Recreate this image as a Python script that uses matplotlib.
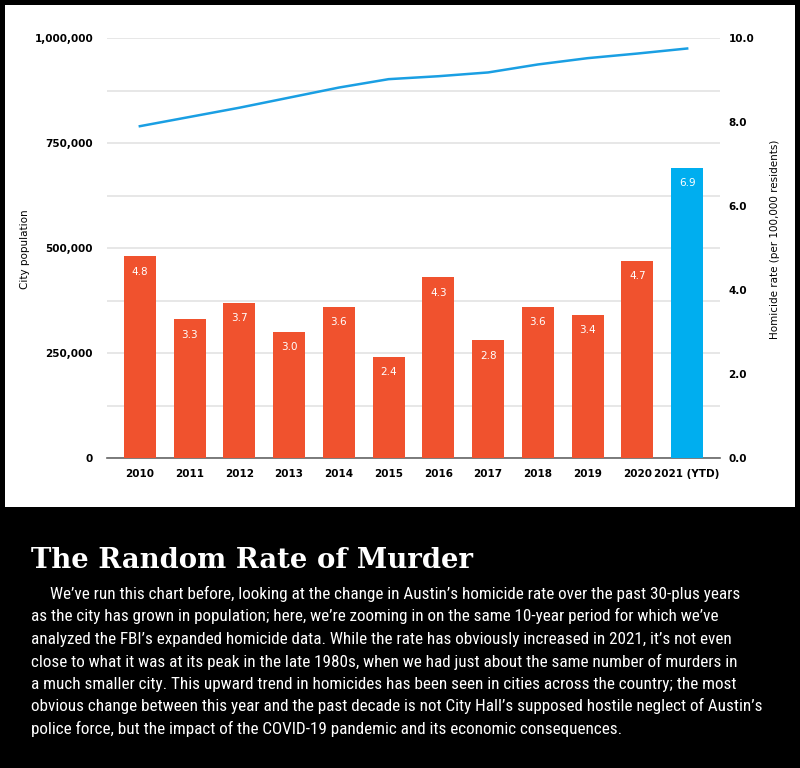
import matplotlib.pyplot as plt
from matplotlib import font_manager
from matplotlib.patches import Rectangle
from matplotlib.ticker import FuncFormatter, MultipleLocator

years = ["2010", "2011", "2012", "2013", "2014", "2015", "2016", "2017",
         "2018", "2019", "2020", "2021 (YTD)"]
homicide_rate = [4.8, 3.3, 3.7, 3.0, 3.6, 2.4, 4.3, 2.8, 3.6, 3.4, 4.7, 6.9]
population = [790000, 812000, 834000, 858000, 882000, 902000, 909000, 918000,
              937000, 952000, 963000, 975000]

title = "The Random Rate of Murder"
body_lines = [
    "We\u2019ve run this chart before, looking at the change in Austin\u2019s homicide rate over the past 30-plus years",
    "as the city has grown in population; here, we\u2019re zooming in on the same 10-year period for which we\u2019ve",
    "analyzed the FBI\u2019s expanded homicide data. While the rate has obviously increased in 2021, it\u2019s not even",
    "close to what it was at its peak in the late 1980s, when we had just about the same number of murders in",
    "a much smaller city. This upward trend in homicides has been seen in cities across the country; the most",
    "obvious change between this year and the past decade is not City Hall\u2019s supposed hostile neglect of Austin\u2019s",
    "police force, but the impact of the COVID-19 pandemic and its economic consequences.",
]

RED = "#f0522e"
BLUE_BAR = "#00aeef"
BLUE_LINE = "#1a9fe3"
W, H = 800, 768

# pick a narrow face for the body copy if one is installed
names = {f.name for f in font_manager.fontManager.ttflist}
body_family = "DejaVu Sans"
for cand in ["Liberation Sans Narrow", "Roboto Condensed", "Open Sans Condensed",
             "DejaVu Sans Condensed"]:
    if cand in names:
        body_family = cand
        break

fig = plt.figure(figsize=(8, 7.68), dpi=100, facecolor="black")
fig.patches.append(Rectangle((5 / W, 1 - 507 / H), 790 / W, 502 / H,
                             transform=fig.transFigure, facecolor="white",
                             edgecolor="none", zorder=-5))

ax = fig.add_axes([107 / W, 1 - 458 / H, 613 / W, 420 / H])
ax.set_facecolor("none")
x = list(range(len(years)))

# population line on the left axis
ax.plot(x, population, color=BLUE_LINE, lw=1.8, zorder=5)
ax.set_ylim(0, 1000000)
ax.set_xlim(-0.66, len(years) - 0.34)
ax.yaxis.set_major_locator(MultipleLocator(250000))
ax.yaxis.set_minor_locator(MultipleLocator(125000))
ax.yaxis.set_major_formatter(FuncFormatter(lambda v, p: f"{int(v):,}"))
ax.grid(True, which="both", axis="y", color="#e3e3e3", lw=1.2)
ax.set_axisbelow(True)
ax.set_xticks(x)
ax.set_xticklabels(years, fontsize=7.5, fontweight="bold")
ax.tick_params(axis="both", length=0, pad=8)
ax.tick_params(axis="y", which="both", length=0, labelsize=7.5, pad=10)
for lbl in ax.get_yticklabels():
    lbl.set_fontweight("bold")
for s in ["top", "right", "left"]:
    ax.spines[s].set_visible(False)
ax.spines["bottom"].set_color("#666666")
ax.spines["bottom"].set_linewidth(1.2)
ax.set_ylabel("City population", fontsize=7.5)
ax.yaxis.set_label_coords((30 - 107) / 613, (458 - 249) / 420)

# homicide bars on the right axis
ax2 = ax.twinx()
colors = [RED] * (len(years) - 1) + [BLUE_BAR]
bars = ax2.bar(x, homicide_rate, width=0.64, color=colors, zorder=3)
ax2.set_ylim(0, 10)
ax2.set_yticks([0, 2, 4, 6, 8, 10])
ax2.yaxis.set_major_formatter(FuncFormatter(lambda v, p: f"{v:.1f}"))
ax2.tick_params(axis="y", length=0, labelsize=7.5, pad=6)
for lbl in ax2.get_yticklabels():
    lbl.set_fontweight("bold")
for s in ax2.spines.values():
    s.set_visible(False)
ax2.set_ylabel("Homicide rate (per 100,000 residents)", fontsize=7.5)
ax2.yaxis.set_label_coords((770 - 107) / 613, (458 - 239) / 420)
for b, v in zip(bars, homicide_rate):
    ax2.annotate(f"{v:.1f}", (b.get_x() + b.get_width() / 2, v),
                 xytext=(0, -11), textcoords="offset points",
                 ha="center", va="center", color="white", fontsize=7.5)

# title and body text below the chart
renderer = fig.canvas.get_renderer()
t = fig.text(31 / W, 1 - 568 / H, title, color="white", fontsize=23,
             fontweight="heavy", family="DejaVu Serif", va="baseline")
tw = t.get_window_extent(renderer).width
t.set_fontsize(23 * 442 / tw)

texts = []
for i, line in enumerate(body_lines):
    xpos = 50 if i == 0 else 31
    texts.append(fig.text(xpos / W, 1 - (599 + i * 22.5) / H, line,
                          color="white", fontsize=12.5, family=body_family,
                          va="baseline"))
# shrink the copy so the widest line ends where the reference does
widest = max(tx.get_window_extent(renderer).x1 for tx in texts)
fs = 12.5 * (768 - 31) / (widest - 31)
for tx in texts:
    tx.set_fontsize(min(fs, 12.5))

fig.savefig("out.png", dpi=100, facecolor="black")
